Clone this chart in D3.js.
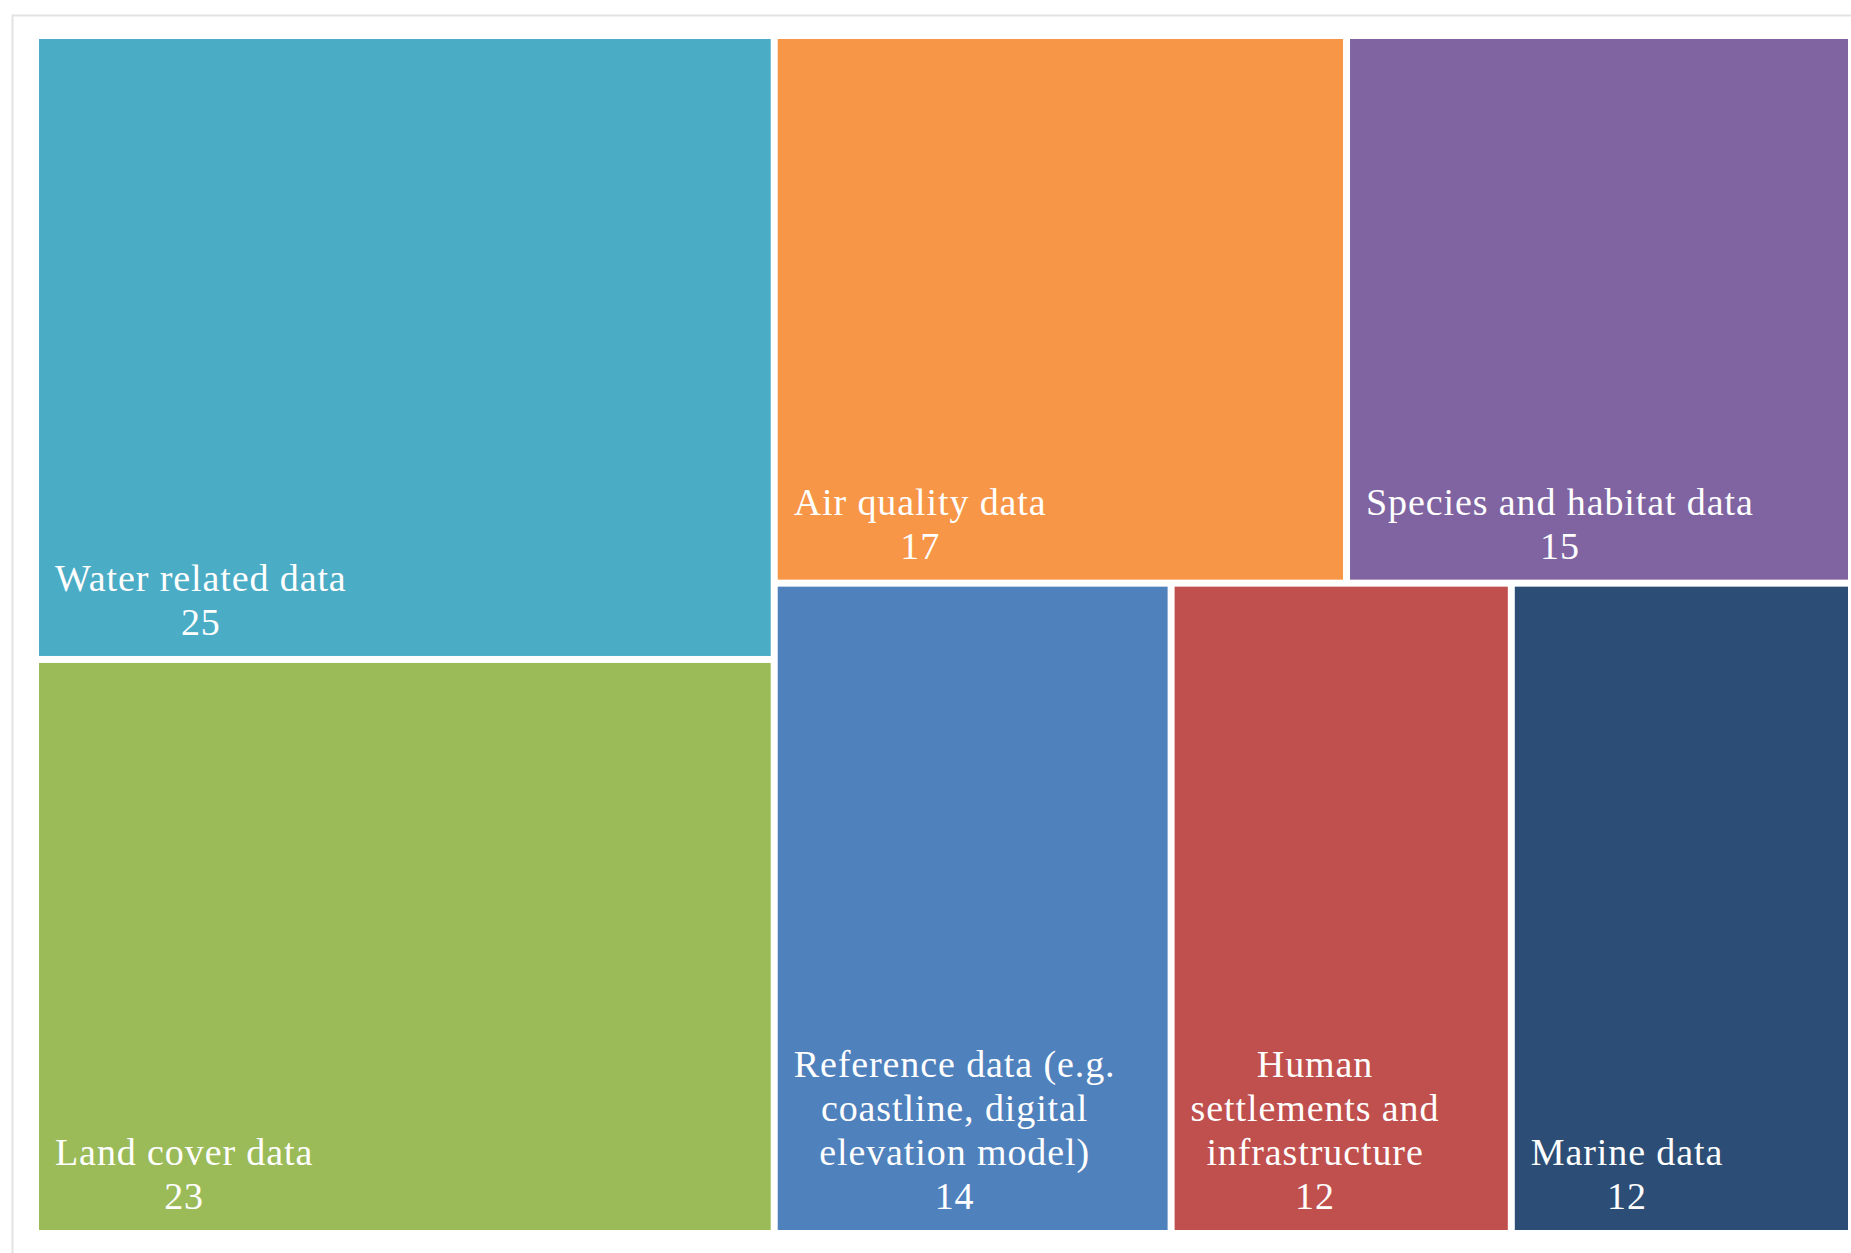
<!DOCTYPE html>
<html>
<head>
<meta charset="utf-8">
<script src="https://cdn.jsdelivr.net/npm/d3@7"></script>
<style>
  html, body { margin: 0; padding: 0; background: #ffffff; }
  svg { display: block; }
</style>
</head>
<body>
<svg id="chart" width="1851" height="1253"></svg>
<script>
// ---- data ----
const categories = [
  "Water related data",
  "Land cover data",
  "Air quality data",
  "Species and habitat data",
  "Reference data (e.g.\ncoastline, digital\nelevation model)",
  "Human\nsettlements and\ninfrastructure",
  "Marine data"
];
const values = [25, 23, 17, 15, 14, 12, 12];
const palette = ["#4BACC6", "#9BBB59", "#F79646", "#8064A2", "#4F81BD", "#C0504D", "#2C4D75"];

// ---- layout ----
const W = 1851, H = 1253;
const svg = d3.select("#chart");

// chart-area frame (light gray, top and left edges visible)
svg.append("rect")
  .attr("x", 12.5).attr("y", 15.5)
  .attr("width", W + 20).attr("height", H + 20)
  .attr("fill", "none").attr("stroke", "#E3E3E3").attr("stroke-width", 2);

const plot = { x: 39, y: 39, w: 1848 - 39, h: 1230 - 39 };

const root = d3.hierarchy({
  children: categories.map((c, i) => ({ name: c, value: values[i], color: palette[i] }))
}).sum(d => d.value || 0);

d3.treemap()
  .tile(d3.treemapSquarify.ratio(1))
  .size([plot.w, plot.h])
  .paddingInner(7)
  .round(false)(root);

const g = svg.append("g").attr("transform", `translate(${plot.x},${plot.y})`);

const cell = g.selectAll("g.cell")
  .data(root.leaves())
  .join("g")
  .attr("class", "cell");

cell.append("rect")
  .attr("x", d => d.x0)
  .attr("y", d => d.y0)
  .attr("width", d => d.x1 - d.x0)
  .attr("height", d => d.y1 - d.y0)
  .attr("fill", d => d.data.color);

const fontSize = 38, lineH = 44, padX = 16, padBottom = 21;

cell.each(function(d) {
  const lines = d.data.name.split("\n").concat([String(d.data.value)]);
  const t = d3.select(this).append("g");
  const texts = t.selectAll("text")
    .data(lines)
    .join("text")
    .attr("font-family", "'Liberation Serif', 'DejaVu Serif', serif")
    .attr("font-size", fontSize)
    .attr("letter-spacing", "0.9px")
    .attr("fill", "#ffffff")
    .attr("text-anchor", "middle")
    .text(s => s);
  let maxW = 0;
  texts.each(function() { maxW = Math.max(maxW, this.getComputedTextLength()); });
  const cx = d.x0 + padX + maxW / 2;
  const lastBase = d.y1 - padBottom;
  texts
    .attr("x", cx)
    .attr("y", (s, i) => lastBase - (lines.length - 1 - i) * lineH);
});
</script>
</body>
</html>
